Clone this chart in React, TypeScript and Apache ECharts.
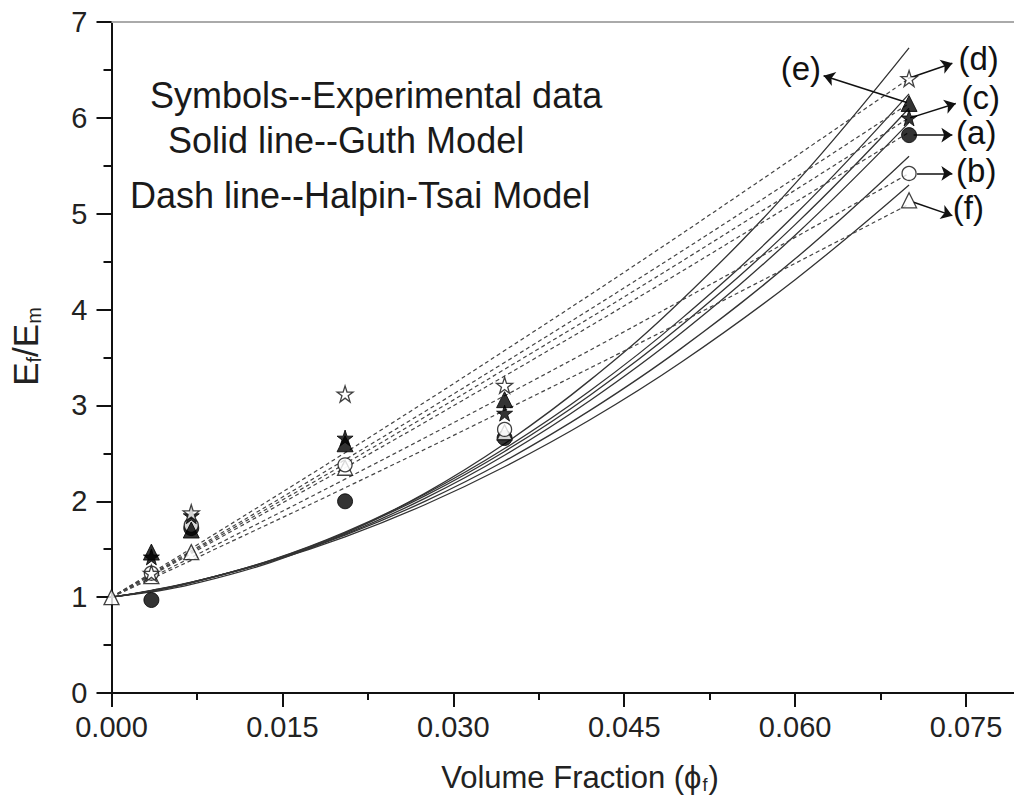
import React, { useEffect, useRef } from "react";
import * as echarts from "echarts";

// Experimental data (volume fraction vs Ef/Em)
const xExp = [0.0035, 0.007, 0.0205, 0.0345, 0.07];
const xExpF = [0, 0.0035, 0.007, 0.0205, 0.0345, 0.07];
const expA = [0.97, 1.72, 2.0, 2.66, 5.82]; // filled circle
const expB = [1.25, 1.75, 2.38, 2.75, 5.42]; // open circle
const expC = [1.42, 1.85, 2.66, 2.92, 6.0]; // filled star
const expD = [1.25, 1.88, 3.12, 3.21, 6.41]; // open star
const expE = [1.47, 1.7, 2.6, 3.06, 6.15]; // filled triangle
const expF = [1.0, 1.22, 1.47, 2.35, 2.72, 5.14]; // open triangle

// Guth model (solid lines)
const xGuth = [0, 0.0035, 0.007, 0.014, 0.0205, 0.0275, 0.0345, 0.042, 0.05, 0.06, 0.07];
const guthE = [1, 1.054, 1.132, 1.363, 1.664, 2.083, 2.6, 3.264, 4.095, 5.314, 6.73];
const guthD = [1, 1.065, 1.151, 1.386, 1.678, 2.073, 2.55, 3.153, 3.903, 4.991, 6.25];
const guthC = [1, 1.066, 1.153, 1.384, 1.671, 2.056, 2.52, 3.107, 3.833, 4.886, 6.1];
const guthA = [1, 1.065, 1.149, 1.377, 1.655, 2.03, 2.48, 3.051, 3.755, 4.776, 5.95];
const guthB = [1, 1.069, 1.155, 1.378, 1.646, 1.999, 2.42, 2.948, 3.595, 4.529, 5.6];
const guthF = [1, 1.071, 1.156, 1.374, 1.629, 1.964, 2.36, 2.85, 3.45, 4.312, 5.3];

// Halpin-Tsai model (dashed lines)
const xHT = [0, 0.0035, 0.007, 0.0205, 0.0345, 0.05, 0.07];
const htD = [1, 1.253, 1.507, 2.506, 3.572, 4.787, 6.41];
const htE = [1, 1.241, 1.483, 2.434, 3.448, 4.605, 6.15];
const htC = [1, 1.234, 1.469, 2.392, 3.377, 4.5, 6.0];
const htA = [1, 1.226, 1.454, 2.35, 3.306, 4.395, 5.85];
const htB = [1, 1.206, 1.414, 2.231, 3.101, 4.094, 5.42];
const htF = [1, 1.191, 1.384, 2.141, 2.949, 3.87, 5.1];

// Curve labels with arrows: [label, from, to, text position]
const curveLabels: [string, number[], number[], number[]][] = [
  ["(d)", [0.0699, 6.41], [0.0738, 6.57], [0.0761, 6.62]],
  ["(e)", [0.0698, 6.16], [0.0625, 6.44], [0.0605, 6.52]],
  ["(c)", [0.0701, 6.0], [0.0741, 6.15], [0.0763, 6.21]],
  ["(a)", [0.0704, 5.82], [0.0738, 5.82], [0.0759, 5.85]],
  ["(b)", [0.0707, 5.42], [0.0738, 5.42], [0.0759, 5.45]],
  ["(f)", [0.0704, 5.12], [0.0738, 4.98], [0.0752, 5.06]],
];

const noteLines = [
  "Symbols--Experimental data",
  "Solid line--Guth Model",
  "Dash line--Halpin-Tsai Model",
];

const xTitleMain = "Volume Fraction (ϕ";
const xTitleSub = "f";
const xTitleEnd = ")";

const STAR =
  "path://M50,2 L61.8,38 L99,38 L69,60 L80.5,96 L50,74 L19.5,96 L31,60 L1,38 L38.2,38 Z";
const FONT = "'Liberation Sans', Arial, sans-serif";

const zip = (xs: number[], ys: number[]) => xs.map((x, i) => [x, ys[i]]);

function arrowFor(idx: number) {
  const [lab, from, to, tp] = curveLabels[idx];
  return {
    markLine: {
      silent: true,
      symbol: ["none", "arrow"],
      symbolSize: 11,
      animation: false,
      label: { show: false },
      lineStyle: { type: "solid", color: "#111", width: 1.5 },
      emphasis: { disabled: true },
      data: [[{ coord: from }, { coord: to }]],
    },
    markPoint: {
      silent: true,
      symbol: "circle",
      symbolSize: 1,
      itemStyle: { color: "rgba(0,0,0,0)" },
      label: {
        show: true,
        position: "inside",
        formatter: lab,
        fontSize: 33,
        fontFamily: FONT,
        color: "#111",
      },
      data: [{ coord: tp, value: 0 }],
    },
  };
}

function measure(text: string, size: number) {
  const c = document.createElement("canvas").getContext("2d");
  if (!c) return text.length * size * 0.55;
  c.font = `${size}px ${FONT}`;
  return c.measureText(text).width;
}

export default function App() {
  const ref = useRef<HTMLDivElement>(null);
  useEffect(() => {
    if (!ref.current) return;
    const chart = echarts.init(ref.current, undefined, { renderer: "svg" });
    const solid = (d: number[]) => ({
      type: "line",
      data: zip(xGuth, d),
      smooth: 0.4,
      showSymbol: false,
      silent: true,
      lineStyle: { color: "#333", width: 1.3, type: "solid" },
      z: 2,
    });
    const dashed = (d: number[]) => ({
      type: "line",
      data: zip(xHT, d),
      smooth: 0.4,
      showSymbol: false,
      silent: true,
      lineStyle: { color: "#444", width: 1.2, type: [4, 3] },
      z: 2,
    });
    const filled = { color: "#000", borderColor: "#000", borderWidth: 1 };
    const open = { color: "#fff", borderColor: "#111", borderWidth: 1.3 };
    const axisCol = "#111";

    const notes = noteLines.map((t, i) => ({
      type: "text",
      x: [150, 168, 130][i],
      y: [95, 140, 195][i],
      silent: true,
      style: {
        text: t,
        fontSize: 36,
        fontFamily: FONT,
        fill: "#1a1a1a",
        verticalAlign: "middle",
      },
    }));

    // x-axis title built from three text pieces (main, subscript, closing bracket)
    const w1 = measure(xTitleMain, 31);
    const w2 = measure(xTitleSub, 18);
    const w3 = measure(xTitleEnd, 31);
    const total = w1 + w2 + 2 + w3;
    const x0 = 580 - total / 2;
    const ty = 777;
    const titleStyle = { fontFamily: FONT, fill: "#222", verticalAlign: "middle", align: "left" };
    const xTitle = [
      { type: "text", x: x0, y: ty, silent: true, style: { ...titleStyle, text: xTitleMain, fontSize: 31 } },
      { type: "text", x: x0 + w1 + 1, y: ty + 8, silent: true, style: { ...titleStyle, text: xTitleSub, fontSize: 18 } },
      { type: "text", x: x0 + w1 + w2 + 2, y: ty, silent: true, style: { ...titleStyle, text: xTitleEnd, fontSize: 31 } },
    ];

    const option: any = {
      animation: false,
      textStyle: { fontFamily: FONT },
      grid: { left: 110, top: 22, right: 7, bottom: 107, containLabel: false },
      xAxis: [
        {
          type: "value",
          min: 0,
          max: 0.08,
          interval: 0.015,
          position: "bottom",
          axisLine: { onZero: false, lineStyle: { color: axisCol, width: 2 } },
          axisTick: { show: true, inside: false, length: 14, lineStyle: { color: axisCol, width: 2 } },
          axisLabel: {
            formatter: (v: number) => v.toFixed(3),
            fontSize: 29,
            color: "#222",
            margin: 19,
            showMaxLabel: false,
          },
          splitLine: { show: false },
        },
        {
          type: "value",
          min: 0,
          max: 0.08,
          interval: 0.0075,
          position: "bottom",
          axisLine: { show: false, onZero: false },
          axisTick: { show: true, inside: false, length: 7, lineStyle: { color: axisCol, width: 2 } },
          axisLabel: { show: false },
          splitLine: { show: false },
        },
        {
          type: "value",
          min: 0,
          max: 0.08,
          position: "top",
          axisLine: { show: true, onZero: false, lineStyle: { color: "#aaa", width: 2 } },
          axisTick: { show: false },
          axisLabel: { show: false },
          splitLine: { show: false },
        },
      ],
      yAxis: {
        type: "value",
        min: 0,
        max: 7,
        interval: 1,
        axisLine: { show: true, onZero: false, lineStyle: { color: axisCol, width: 2 } },
        axisTick: { show: true, inside: false, length: 15, lineStyle: { color: axisCol, width: 2 } },
        minorTick: { show: true, splitNumber: 2, length: 8, lineStyle: { color: axisCol, width: 2 } },
        axisLabel: { fontSize: 29, color: "#222", margin: 24 },
        splitLine: { show: false },
        name: "{e|E}{s|f}{e|/E}{s|m}",
        nameLocation: "middle",
        nameRotate: 90,
        nameGap: 68,
        nameTextStyle: {
          padding: [0, 0, 0, 22],
          rich: {
            e: { fontSize: 35, color: "#222", fontFamily: FONT },
            s: { fontSize: 20, color: "#222", fontFamily: FONT, padding: [16, 0, 0, 0] },
          },
        },
      },
      graphic: [...notes, ...xTitle],
      series: [
        solid(guthE),
        solid(guthD),
        solid(guthC),
        solid(guthA),
        solid(guthB),
        solid(guthF),
        dashed(htD),
        dashed(htE),
        dashed(htC),
        dashed(htA),
        dashed(htB),
        dashed(htF),
        {
          type: "scatter",
          data: zip(xExp, expA),
          symbol: "circle",
          symbolSize: 15,
          itemStyle: filled,
          z: 5,
          ...arrowFor(3),
        },
        {
          type: "scatter",
          data: zip(xExpF, expF),
          symbol: "triangle",
          symbolSize: 15,
          itemStyle: open,
          z: 5,
          ...arrowFor(5),
        },
        {
          type: "scatter",
          data: zip(xExp, expB),
          symbol: "circle",
          symbolSize: 14,
          itemStyle: open,
          z: 5,
          ...arrowFor(4),
        },
        {
          type: "scatter",
          data: zip(xExp, expC),
          symbol: STAR,
          symbolSize: 16,
          itemStyle: filled,
          z: 5,
          ...arrowFor(2),
        },
        {
          type: "scatter",
          data: zip(xExp, expE),
          symbol: "triangle",
          symbolSize: 16,
          itemStyle: filled,
          z: 5,
          ...arrowFor(1),
        },
        {
          type: "scatter",
          data: zip(xExp, expD),
          symbol: STAR,
          symbolSize: 16,
          itemStyle: open,
          z: 5,
          ...arrowFor(0),
        },
      ],
    };
    chart.setOption(option);
    return () => chart.dispose();
  }, []);

  return (
    <div
      style={{
        position: "fixed",
        left: 0,
        top: 0,
        width: 1014,
        height: 800,
        overflow: "hidden",
        background: "#fff",
      }}
    >
      <div ref={ref} style={{ width: 1030, height: 800 }} />
    </div>
  );
}
